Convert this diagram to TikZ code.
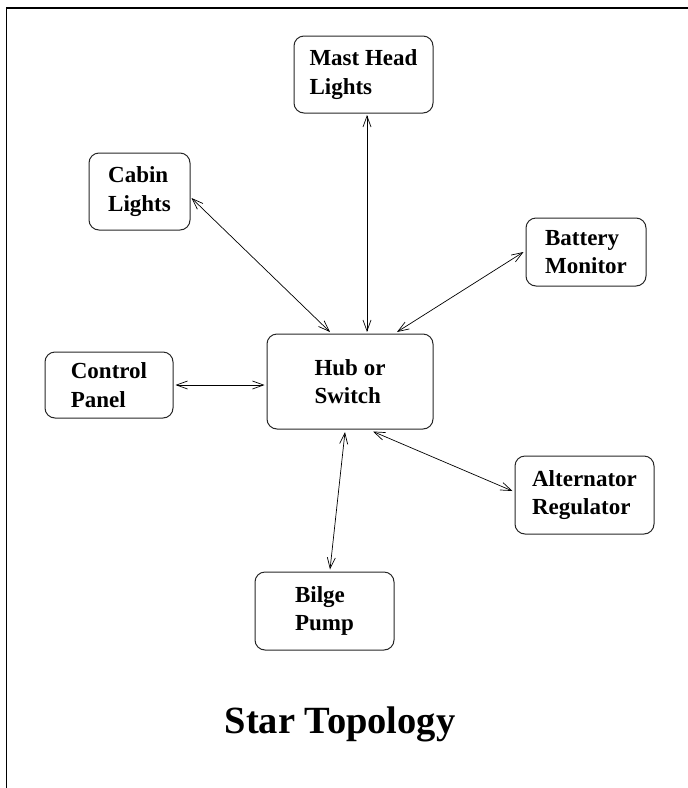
\documentclass[tikz,border=0pt]{standalone}
\usepackage{fontspec}
\setmainfont{Liberation Serif}
\usetikzlibrary{arrows.meta}
\begin{document}
\begin{tikzpicture}[x=1pt,y=-1pt,
  box/.style={draw=black!85, line width=1pt, rounded corners=10pt, align=left,
    font=\bfseries\fontsize{23}{28.5}\selectfont, inner sep=0pt},
  link/.style={line width=0.7pt, {Straight Barb[length=11pt,width=8pt]}-{Straight Barb[length=11pt,width=8pt]}},
  frame/.style={line width=1.3pt}]
\useasboundingbox (0,0) rectangle (688,788);
\draw[frame] (6.5,800) -- (6.5,8) -- (700,8);
\node[box, minimum width=139pt, minimum height=77pt] (mast) at (363.5,74.5) {Mast Head\\Lights};
\node[box, minimum width=101pt, minimum height=77pt] (cabin) at (139.5,191.5) {Cabin\\Lights};
\node[box, minimum width=120pt, minimum height=68pt] (battery) at (586,252) {Battery\\Monitor};
\node[box, minimum width=128pt, minimum height=66pt] (control) at (109,385) {Control\\Panel};
\node[box, minimum width=166pt, minimum height=95pt] (hub) at (350,381.5) {Hub or\\Switch};
\node[box, minimum width=139pt, minimum height=78pt] (alt) at (584.5,495) {Alternator\\Regulator};
\node[box, minimum width=139pt, minimum height=78pt] (bilge) at (324.5,611) {Bilge\\Pump};
\node[anchor=base, font=\bfseries\fontsize{38.5}{46}\selectfont] (title) at (340,733) {Star Topology};
\draw[link] ([yshift=-6.5pt,xshift=1pt]cabin.east) -- ([xshift=-20pt,yshift=1.5pt]hub.north);
\draw[link] ([xshift=3.5pt,yshift=-1.5pt]mast.south) -- ([xshift=17pt,yshift=1.5pt]hub.north);
\draw[link] ([xshift=-2pt]battery.west) -- ([xshift=47pt,yshift=1.5pt]hub.north);
\draw[link] ([xshift=2pt]control.east) -- ([xshift=-2pt]control.east -| hub.west);
\draw[link] ([xshift=-2pt,yshift=4pt]alt.west) -- ([xshift=23pt,yshift=-2pt]hub.south);
\draw[link] ([xshift=5.5pt,yshift=2pt]bilge.north) -- ([xshift=-5pt,yshift=-2.5pt]hub.south);
\end{tikzpicture}
\end{document}
